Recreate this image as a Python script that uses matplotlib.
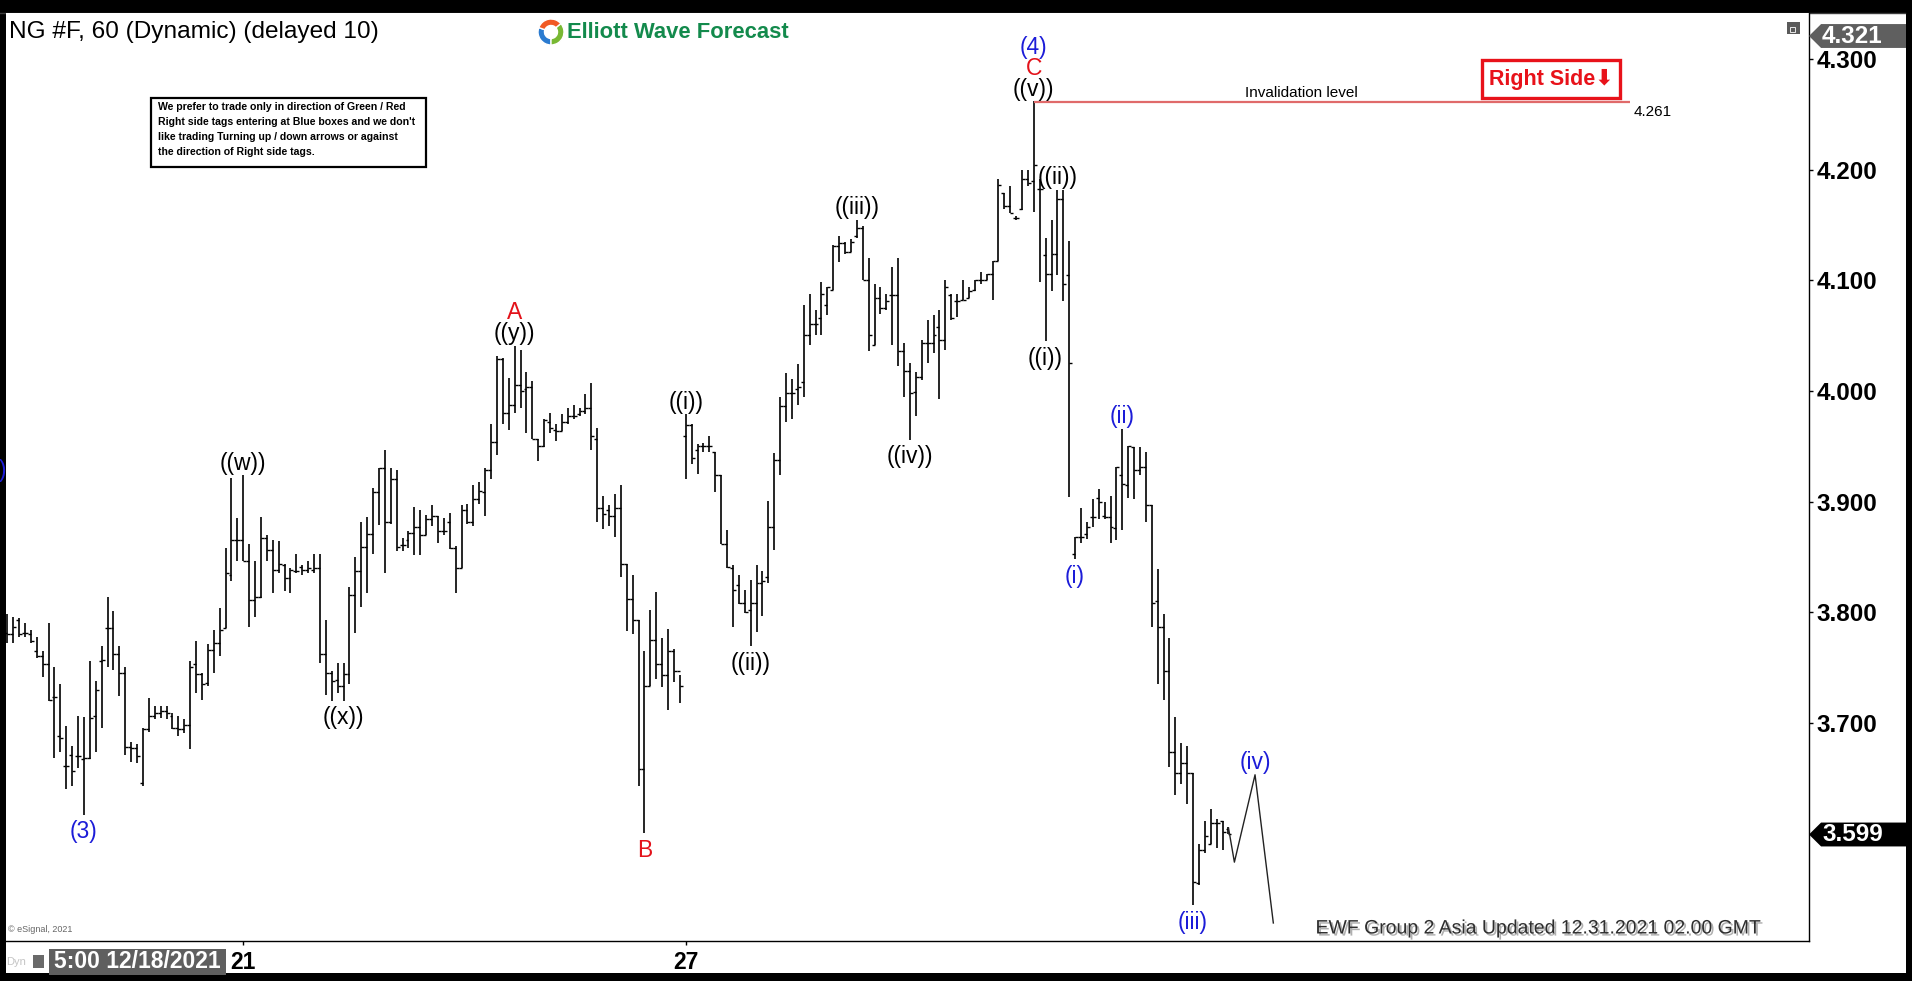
import numpy as np
import matplotlib
matplotlib.use("Agg")
import matplotlib.pyplot as plt
from matplotlib import font_manager
from matplotlib.patches import Rectangle, Polygon, Wedge
from matplotlib.transforms import blended_transform_factory
import matplotlib.patheffects as pe

W, H = 1912, 981

# hourly NG bars (high / low / open / close), oldest first
bar_high = [3.798, 3.796, 3.795, 3.790, 3.784, 3.778, 3.765, 3.790, 3.750, 3.735,
            3.697, 3.679, 3.706, 3.705, 3.756, 3.738, 3.769, 3.814, 3.801, 3.769,
            3.750, 3.683, 3.681, 3.695, 3.722, 3.715, 3.715, 3.715, 3.709, 3.706,
            3.703, 3.756, 3.774, 3.745, 3.771, 3.784, 3.804, 3.858, 3.921, 3.885,
            3.924, 3.862, 3.846, 3.886, 3.870, 3.865, 3.864, 3.844, 3.840, 3.853,
            3.843, 3.846, 3.853, 3.853, 3.793, 3.747, 3.754, 3.754, 3.823, 3.850,
            3.882, 3.886, 3.912, 3.930, 3.947, 3.930, 3.929, 3.867, 3.873, 3.895,
            3.892, 3.888, 3.897, 3.887, 3.885, 3.890, 3.860, 3.897, 3.898, 3.915,
            3.918, 3.930, 3.970, 4.032, 4.030, 4.012, 4.041, 4.037, 4.017, 4.009,
            3.957, 3.975, 3.980, 3.970, 3.979, 3.985, 3.987, 3.985, 3.997, 4.007,
            3.967, 3.905, 3.897, 3.907, 3.915, 3.844, 3.834, 3.793, 3.765, 3.802,
            3.818, 3.777, 3.785, 3.767, 3.743, 3.979, 3.970, 3.952, 3.953, 3.959,
            3.945, 3.924, 3.874, 3.843, 3.834, 3.820, 3.829, 3.843, 3.837, 3.901,
            3.944, 3.995, 4.016, 4.011, 4.024, 4.078, 4.088, 4.073, 4.099, 4.094,
            4.132, 4.140, 4.135, 4.137, 4.155, 4.149, 4.120, 4.097, 4.094, 4.088,
            4.112, 4.120, 4.043, 4.025, 4.017, 4.046, 4.064, 4.069, 4.073, 4.100,
            4.088, 4.088, 4.100, 4.094, 4.100, 4.108, 4.106, 4.118, 4.192, 4.179,
            4.185, 4.158, 4.200, 4.200, 4.262, 4.192, 4.138, 4.155, 4.182, 4.182,
            4.136, 3.868, 3.894, 3.882, 3.902, 3.911, 3.900, 3.905, 3.931, 3.966,
            3.950, 3.949, 3.949, 3.945, 3.897, 3.839, 3.798, 3.777, 3.705, 3.682,
            3.679, 3.655, 3.590, 3.611, 3.622, 3.613, 3.611, 3.606]
bar_low = [3.772, 3.772, 3.778, 3.778, 3.772, 3.759, 3.741, 3.720, 3.668, 3.674,
           3.640, 3.643, 3.659, 3.617, 3.667, 3.674, 3.695, 3.750, 3.748, 3.724,
           3.671, 3.665, 3.664, 3.643, 3.692, 3.703, 3.704, 3.703, 3.694, 3.688,
           3.691, 3.676, 3.727, 3.721, 3.733, 3.745, 3.760, 3.786, 3.828, 3.846,
           3.846, 3.787, 3.796, 3.813, 3.846, 3.817, 3.835, 3.819, 3.817, 3.835,
           3.834, 3.835, 3.835, 3.754, 3.725, 3.720, 3.727, 3.720, 3.735, 3.781,
           3.805, 3.817, 3.853, 3.879, 3.835, 3.880, 3.855, 3.855, 3.858, 3.852,
           3.852, 3.870, 3.878, 3.863, 3.870, 3.857, 3.817, 3.840, 3.880, 3.878,
           3.898, 3.887, 3.920, 3.942, 3.970, 3.965, 3.980, 3.985, 3.962, 3.957,
           3.937, 3.949, 3.962, 3.955, 3.964, 3.970, 3.975, 3.977, 3.979, 3.947,
           3.882, 3.875, 3.878, 3.868, 3.832, 3.783, 3.780, 3.643, 3.600, 3.733,
           3.740, 3.732, 3.712, 3.737, 3.718, 3.920, 3.934, 3.925, 3.945, 3.945,
           3.909, 3.862, 3.840, 3.787, 3.807, 3.799, 3.769, 3.782, 3.797, 3.826,
           3.856, 3.924, 3.972, 3.975, 3.987, 3.995, 4.042, 4.051, 4.051, 4.069,
           4.091, 4.117, 4.124, 4.126, 4.138, 4.100, 4.036, 4.042, 4.070, 4.073,
           4.042, 4.023, 3.995, 3.956, 3.977, 4.010, 4.025, 4.034, 3.993, 4.037,
           4.064, 4.067, 4.082, 4.084, 4.090, 4.097, 4.100, 4.082, 4.118, 4.165,
           4.161, 4.155, 4.164, 4.185, 4.162, 4.099, 4.045, 4.090, 4.105, 4.081,
           3.904, 3.848, 3.863, 3.866, 3.877, 3.884, 3.884, 3.863, 3.865, 3.874,
           3.903, 3.902, 3.924, 3.882, 3.787, 3.735, 3.721, 3.660, 3.635, 3.645,
           3.627, 3.535, 3.553, 3.582, 3.590, 3.587, 3.585, 3.599]
bar_open = [3.781, 3.780, 3.793, 3.781, 3.780, 3.765, 3.760, 3.753, 3.723, 3.688,
            3.661, 3.671, 3.670, 3.667, 3.668, 3.706, 3.756, 3.786, 3.786, 3.762,
            3.745, 3.678, 3.677, 3.646, 3.694, 3.706, 3.709, 3.711, 3.706, 3.695,
            3.694, 3.698, 3.753, 3.744, 3.736, 3.766, 3.772, 3.786, 3.834, 3.865,
            3.865, 3.846, 3.811, 3.814, 3.867, 3.856, 3.838, 3.843, 3.831, 3.837,
            3.841, 3.838, 3.838, 3.840, 3.762, 3.745, 3.739, 3.733, 3.744, 3.816,
            3.837, 3.859, 3.871, 3.909, 3.930, 3.882, 3.920, 3.861, 3.865, 3.872,
            3.877, 3.870, 3.884, 3.887, 3.873, 3.882, 3.858, 3.840, 3.892, 3.882,
            3.902, 3.909, 3.929, 3.954, 4.029, 3.980, 3.987, 4.005, 4.002, 4.004,
            3.957, 3.950, 3.972, 3.965, 3.964, 3.972, 3.977, 3.979, 3.982, 3.985,
            3.957, 3.894, 3.892, 3.887, 3.894, 3.844, 3.812, 3.793, 3.658, 3.733,
            3.775, 3.753, 3.743, 3.765, 3.747, 3.959, 3.969, 3.947, 3.950, 3.950,
            3.945, 3.924, 3.862, 3.840, 3.825, 3.808, 3.802, 3.808, 3.826, 3.832,
            3.877, 3.938, 3.986, 3.998, 4.002, 4.008, 4.051, 4.061, 4.066, 4.078,
            4.091, 4.131, 4.134, 4.126, 4.140, 4.147, 4.100, 4.042, 4.084, 4.075,
            4.087, 4.087, 4.036, 4.018, 3.999, 4.013, 4.043, 4.043, 4.058, 4.046,
            4.087, 4.081, 4.082, 4.084, 4.091, 4.100, 4.100, 4.106, 4.118, 4.179,
            4.167, 4.156, 4.165, 4.192, 4.190, 4.183, 4.123, 4.106, 4.124, 4.174,
            4.105, 3.853, 3.868, 3.871, 3.886, 3.903, 3.887, 3.886, 3.876, 3.924,
            3.915, 3.949, 3.929, 3.931, 3.897, 3.810, 3.787, 3.747, 3.674, 3.655,
            3.664, 3.655, 3.555, 3.585, 3.590, 3.609, 3.611, 3.604]
bar_close = [3.780, 3.787, 3.780, 3.781, 3.774, 3.760, 3.753, 3.721, 3.723, 3.686,
             3.661, 3.656, 3.670, 3.668, 3.704, 3.730, 3.757, 3.786, 3.762, 3.745,
             3.678, 3.677, 3.670, 3.694, 3.706, 3.709, 3.711, 3.709, 3.695, 3.694,
             3.698, 3.750, 3.744, 3.735, 3.766, 3.772, 3.784, 3.835, 3.865, 3.865,
             3.846, 3.811, 3.814, 3.867, 3.856, 3.838, 3.844, 3.831, 3.838, 3.837,
             3.838, 3.840, 3.840, 3.762, 3.745, 3.738, 3.733, 3.744, 3.816, 3.837,
             3.859, 3.871, 3.909, 3.930, 3.882, 3.920, 3.859, 3.861, 3.872, 3.877,
             3.870, 3.884, 3.887, 3.873, 3.873, 3.858, 3.840, 3.892, 3.882, 3.902,
             3.910, 3.929, 3.954, 4.029, 3.980, 3.987, 4.005, 4.000, 4.004, 3.957,
             3.950, 3.974, 3.967, 3.964, 3.972, 3.977, 3.977, 3.982, 3.985, 3.959,
             3.894, 3.889, 3.887, 3.894, 3.844, 3.812, 3.793, 3.658, 3.733, 3.775,
             3.753, 3.743, 3.765, 3.747, 3.733, 3.969, 3.939, 3.950, 3.950, 3.950,
             3.924, 3.862, 3.841, 3.820, 3.808, 3.800, 3.808, 3.826, 3.828, 3.877,
             3.938, 3.986, 3.998, 3.998, 4.004, 4.051, 4.061, 4.061, 4.088, 4.094,
             4.131, 4.134, 4.126, 4.135, 4.147, 4.100, 4.051, 4.084, 4.075, 4.081,
             4.087, 4.036, 4.018, 3.998, 4.013, 4.043, 4.043, 4.051, 4.046, 4.094,
             4.066, 4.081, 4.082, 4.090, 4.100, 4.100, 4.106, 4.118, 4.186, 4.167,
             4.161, 4.156, 4.192, 4.188, 4.204, 4.183, 4.106, 4.124, 4.174, 4.097,
             4.025, 3.868, 3.868, 3.877, 3.886, 3.900, 3.886, 3.877, 3.931, 3.916,
             3.950, 3.929, 3.931, 3.897, 3.808, 3.787, 3.747, 3.674, 3.655, 3.664,
             3.655, 3.556, 3.585, 3.598, 3.609, 3.609, 3.601, 3.599]

# projected path after the last bar: dip, (iv) bounce, then lower
proj_bar = [207, 208, 211.5, 214.6]
proj_price = [3.605, 3.574, 3.653, 3.519]

# wave labels: text, bar index, side of the bar, stack level, colour
BLUE, RED, BLK = "#1c1cd8", "#e3121a", "black"
wave_labels = [
    ("(3)", 13, "low", 0, BLUE),
    ("((w))", 40, "high", 0, BLK),
    ("((x))", 57, "low", 0, BLK),
    ("((y))", 86, "high", 0, BLK),
    ("A", 86, "high", 1, RED),
    ("B", 108, "low", 0, RED),
    ("((i))", 115, "high", 0, BLK),
    ("((ii))", 126, "low", 0, BLK),
    ("((iii))", 144, "high", 0, BLK),
    ("((iv))", 153, "low", 0, BLK),
    ("((v))", 174, "high", 0, BLK),
    ("C", 174, "high", 1, RED),
    ("(4)", 174, "high", 2, BLUE),
    ("((i))", 176, "low", 0, BLK),
    ("((ii))", 178, "high", 0, BLK),
    ("(i)", 181, "low", 0, BLUE),
    ("(ii)", 189, "high", 0, BLUE),
    ("(iii)", 201, "low", 0, BLUE),
]

price_ticks = [3.7, 3.8, 3.9, 4.0, 4.1, 4.2, 4.3]
day_start_bar = [40, 115]
day_labels = ["21", "27"]
invalidation = 4.261
last_price = 3.599
scale_high = 4.321

installed = {f.name for f in font_manager.fontManager.ttflist}
SANS = "Liberation Sans" if "Liberation Sans" in installed else "DejaVu Sans"
NARROW = "Liberation Sans Narrow" if "Liberation Sans Narrow" in installed else None
plt.rcParams["font.family"] = [SANS, "DejaVu Sans"]

fig = plt.figure(figsize=(W / 100, H / 100), dpi=100, facecolor="black")

# background frame in pixel coords
bg = fig.add_axes([0, 0, 1, 1], zorder=0)
bg.set_xlim(0, W)
bg.set_ylim(H, 0)
bg.axis("off")
bg.add_patch(Rectangle((6, 13), 1900, 960, facecolor="white", edgecolor="none"))
bg.plot([0, 1905], [12.5, 12.5], color="#3c3c3c", lw=1)

# main price axes
ax = fig.add_axes([6 / W, (H - 941) / H, (1809 - 6) / W, (941 - 13) / H], zorder=2)
ax.set_facecolor("white")
ax.set_xlim(-0.22, 305.4)
ax.set_ylim(3.5027, 4.3418)
for s in ("left", "top"):
    ax.spines[s].set_visible(False)
for s in ("right", "bottom"):
    ax.spines[s].set_color("black")
    ax.spines[s].set_linewidth(1.0)

idx = np.arange(len(bar_high))
ax.vlines(idx, bar_low, bar_high, color="black", lw=1.2)
ax.hlines(bar_open, idx - 0.5, idx, color="black", lw=1.0)
ax.hlines(bar_close, idx, idx + 0.5, color="black", lw=1.0)

ax.plot(proj_bar, proj_price, color="#222222", lw=1.0)

# invalidation level from the C top
c_bar = int(np.argmax(bar_high))
ax.hlines(invalidation, c_bar, 275, color="#e06a6a", lw=1.6)
ax.text(219.4, invalidation + 0.0025, "Invalidation level", ha="center", va="bottom",
        fontsize=11, color="black")
ax.text(278.9, invalidation - 0.009, f"{invalidation:.3f}", ha="center", va="center",
        fontsize=11, color="black")

# wave labels: offsets in pixels from the bar extreme (converted to points)
LBL = 16.5
for txt, b, side, lvl, col in wave_labels:
    if side == "high":
        y, dy = bar_high[b], (12 + 21 * lvl) * 0.72
    else:
        y, dy = bar_low[b], -(17 + 21 * lvl) * 0.72
    ax.annotate(txt, (b, y), xytext=(0, dy), textcoords="offset points",
                ha="center", va="center", fontsize=LBL, color=col)
ax.annotate("(iv)", (proj_bar[2], proj_price[2]), xytext=(0, 9), textcoords="offset points",
            ha="center", va="center", fontsize=LBL, color=BLUE)

# right price scale
ax.yaxis.tick_right()
ax.set_yticks(price_ticks)
ax.set_yticklabels([f"{p:.3f}" for p in price_ticks])
ax.tick_params(axis="y", right=True, left=False, length=3, width=1, pad=2.5,
               labelsize=17.5, labelcolor="black")
for t in ax.get_yticklabels():
    t.set_fontweight("bold")

ax.set_xticks(day_start_bar)
ax.set_xticklabels(day_labels)
ax.tick_params(axis="x", length=3, width=1, pad=4, labelsize=16.5)
for t in ax.get_xticklabels():
    t.set_fontweight("bold")

# price tags on the right scale
tr = blended_transform_factory(ax.transAxes, ax.transData)
hh = 0.0108
for price, fc in ((scale_high, "#5f5f5f"), (last_price, "black")):
    ax.add_patch(Polygon([(1.0, price), (1.0067, price + hh), (1.0538, price + hh),
                          (1.0538, price - hh), (1.0067, price - hh)],
                         closed=True, transform=tr, facecolor=fc, edgecolor="none",
                         clip_on=False, zorder=5))
    ax.text(1.0072, price, f"{price:.3f}", transform=tr, ha="left", va="center",
            color="white", fontsize=17.5, fontweight="bold", clip_on=False, zorder=6)

# overlay for header / footer decorations
ov = fig.add_axes([0, 0, 1, 1], zorder=5)
ov.set_xlim(0, W)
ov.set_ylim(H, 0)
ov.axis("off")
ov.patch.set_alpha(0)

ov.text(9, 32, "NG #F, 60 (Dynamic) (delayed 10)", ha="left", va="center",
        fontsize=17.6, color="black")

# logo
cx, cy, r = 551, 32, 13
for a0, a1, col in ((90, 200, "#2b7bd0"), (200, 320, "#f15a24"), (320, 450, "#78b833")):
    ov.add_patch(Wedge((cx, cy), r, a0, a1, width=6.5, facecolor=col, edgecolor="white", lw=1))
ov.text(567, 33, "Elliott Wave Forecast", ha="left", va="center", fontsize=15.8,
        fontweight="bold", color="#138a4c")

# notice box
ov.add_patch(Rectangle((151, 97.5), 275, 69.5, facecolor="white", edgecolor="black", lw=1.6))
notice = ["We prefer to trade only in direction of Green / Red",
          "Right side tags entering at Blue boxes and we don't",
          "like trading Turning up / down arrows or against",
          "the direction of Right side tags."]
for i, line in enumerate(notice):
    if NARROW:
        ov.text(158, 107.5 + 14.7 * i, line, ha="left", va="center", fontsize=8.6,
                fontweight="bold", family=[NARROW, "DejaVu Sans"])
    else:
        ov.text(158, 107.5 + 14.7 * i, line, ha="left", va="center", fontsize=7.6,
                fontweight="bold")

# Right Side tag
ov.add_patch(Rectangle((1482, 60), 138, 38, facecolor="white", edgecolor="#e8121a", lw=2.4))
ov.text(1551, 79.5, "Right Side\u2b07", ha="center", va="center", fontsize=15.5,
        fontweight="bold", color="#e8121a", family=[SANS, "DejaVu Sans"])

# small window icon
ov.add_patch(Rectangle((1787, 22), 13, 12, facecolor="#5a5a5a", edgecolor="none"))
ov.add_patch(Rectangle((1790, 27), 5, 5, facecolor="none", edgecolor="white", lw=0.6))

# cut-off label on the left edge
ov.text(3, 471, ")", ha="center", va="center", fontsize=LBL, color=BLUE)

# footer
ov.text(8, 929, "\u00a9 eSignal, 2021", ha="left", va="center", fontsize=6.5, color="#666666")
ov.text(1763, 929, "EWF Group 2 Asia Updated 12.31.2021 02.00 GMT", ha="right",
        va="center", fontsize=14, color="#2e2e2e",
        path_effects=[pe.withSimplePatchShadow(offset=(1.5, -1.5), shadow_rgbFace="#b0b0b0",
                                               alpha=1.0)])

ov.text(6, 962, "Dyn", ha="left", va="center", fontsize=8, color="#c4c4c4")
ov.add_patch(Rectangle((33, 955), 11, 13, facecolor="#6a6a6a", edgecolor="none"))
ov.add_patch(Rectangle((49, 949), 177, 26, facecolor="#5f5f5f", edgecolor="none"))
ov.text(137.5, 962, "5:00 12/18/2021", ha="center", va="center", fontsize=16.5,
        fontweight="bold", color="white")

fig.savefig("out.png", dpi=100, facecolor="black")
